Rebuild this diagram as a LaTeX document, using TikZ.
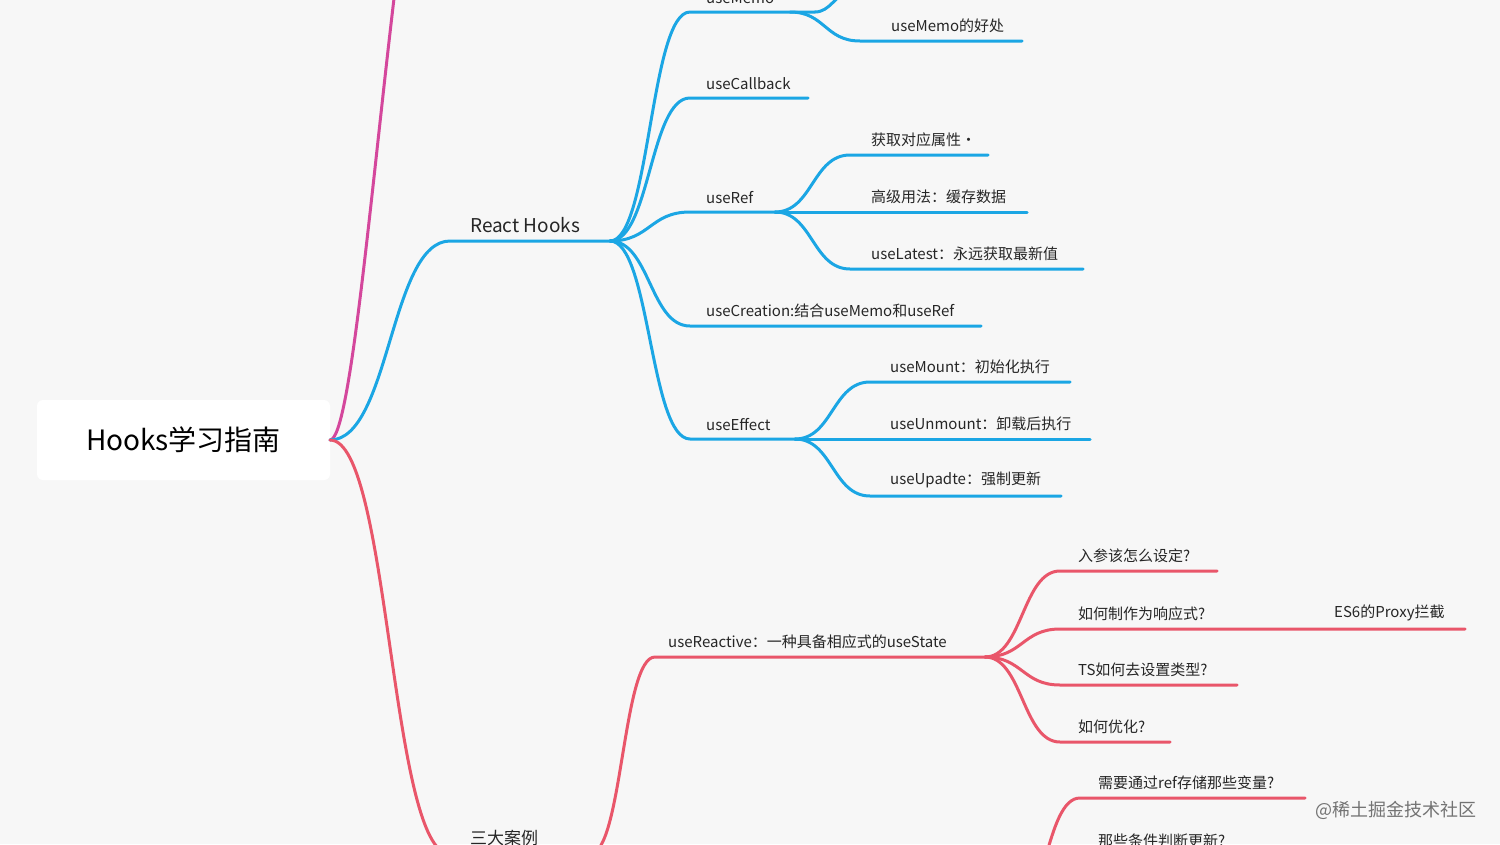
\documentclass[tikz,border=0pt]{standalone}
\usepackage{fontspec}
\setmainfont{Noto Sans CJK SC}
\begin{document}
\begin{tikzpicture}[x=1pt,y=-1pt,
  lbl/.style={anchor=south west,inner sep=0pt,font=\fontsize{15}{15}\selectfont,text=black!85},
  bl/.style={draw=hb,line width=3pt,line cap=round},
  rd/.style={draw=hr,line width=3pt,line cap=round},
  mg/.style={draw=hm,line width=3pt,line cap=round}]
\definecolor{hb}{HTML}{1BA6E4}
\definecolor{hr}{HTML}{E9566A}
\definecolor{hm}{HTML}{D4479C}
\definecolor{bgc}{HTML}{F7F7F7}
\newcommand\br[6]{\draw[#1] (#2,#3) .. controls ({(#2+#4)/2},#3) and ({(#2+#4)/2},#5) .. (#4,#5) -- (#6,#5);}
\fill[bgc] (0,0) rectangle (1500,844);
\useasboundingbox (0,0) rectangle (1500,844);
% root
\node[fill=white,rounded corners=6pt,minimum width=293pt,minimum height=80pt,font=\fontsize{28}{28}\selectfont] (root) at (183.5,440) {Hooks学习指南};
\coordinate (r) at (330,440);
% magenta
\draw[mg] (r) .. controls (350,440) and (370,200) .. (395,-10);
% React Hooks
\draw[bl] (r) .. controls (390,440) and (390,241) .. (450,241) -- (610,241);
\node[lbl,font=\fontsize{19}{19}\selectfont] (rh) at (470,233) {React Hooks};
% children of React Hooks
\br{bl}{610}{241}{690}{12}{815}
\node[lbl] (um) at (706,4) {useMemo};
\draw[bl] (815,12) .. controls (830,12) and (835,-5) .. (850,-10);
\br{bl}{790}{12}{860}{41}{1022}
\node[lbl] (umh) at (891,33) {useMemo的好处};
\br{bl}{610}{241}{690}{98}{808}
\node[lbl] (ucb) at (706,90) {useCallback};
\br{bl}{610}{241}{690}{212}{775}
\node[lbl] (uref) at (706,204) {useRef};
\br{bl}{775}{212}{850}{155}{988}
\node[lbl] (r1) at (871,147) {获取对应属性·};
\br{bl}{775}{212}{850}{212}{1027}
\node[lbl] (r2) at (871,204) {高级用法：缓存数据};
\br{bl}{775}{212}{850}{269}{1083}
\node[lbl] (r3) at (871,261) {useLatest：永远获取最新值};
\br{bl}{610}{241}{690}{326}{981}
\node[lbl] (ucr) at (706,318) {useCreation:结合useMemo和useRef};
\br{bl}{610}{241}{690}{439}{795}
\node[lbl] (ue) at (706,431) {useEffect};
\br{bl}{795}{439}{870}{382}{1070}
\node[lbl] (e1) at (890,374) {useMount：初始化执行};
\br{bl}{795}{439}{870}{439}{1090}
\node[lbl] (e2) at (890,431) {useUnmount：卸载后执行};
\br{bl}{795}{439}{870}{496}{1061}
\node[lbl] (e3) at (890,488) {useUpadte：强制更新};
% red branch
\draw[rd] (r) .. controls (390,440) and (390,854) .. (450,854) -- (590,854);
\node[lbl,font=\fontsize{17}{17}\selectfont] (sd) at (470,846) {三大案例};
\br{rd}{590}{854}{655}{657}{985}
\node[lbl] (ur) at (668,649) {useReactive：一种具备相应式的useState};
\br{rd}{985}{657}{1060}{571}{1217}
\node[lbl] (q1) at (1078,563) {入参该怎么设定?};
\br{rd}{985}{657}{1060}{629}{1465}
\node[lbl] (q2) at (1078,621) {如何制作为响应式?};
\node[lbl] (q2a) at (1334,621) {ES6的Proxy拦截};
\br{rd}{985}{657}{1060}{685}{1237}
\node[lbl] (q3) at (1078,677) {TS如何去设置类型?};
\br{rd}{985}{657}{1060}{742}{1170}
\node[lbl] (q4) at (1078,734) {如何优化?};
\br{rd}{1010}{920}{1080}{798}{1305}
\node[lbl] (p1) at (1098,790) {需要通过ref存储那些变量?};
\node[lbl] (p2) at (1098,848) {那些条件判断更新?};
\node[anchor=center,inner sep=0pt,font=\fontsize{18}{18}\selectfont,text=black!55] (wm) at (1396,810) {@稀土掘金技术社区};
\end{tikzpicture}
\end{document}
